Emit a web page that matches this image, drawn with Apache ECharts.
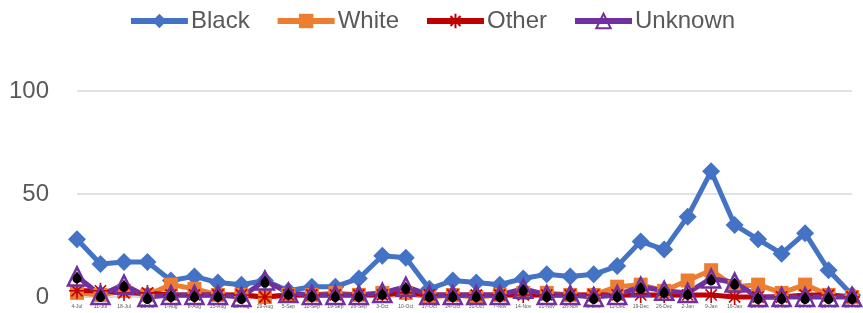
<!DOCTYPE html>
<html>
<head>
<meta charset="utf-8">
<script src="https://cdn.jsdelivr.net/npm/echarts@6/dist/echarts.min.js"></script>
<style>
html,body{margin:0;padding:0;background:#fff;}
#chart{width:863px;height:313px;}
</style>
</head>
<body>
<div id="chart"></div>
<script>
const categories = ['4-Jul','11-Jul','18-Jul','25-Jul','1-Aug','8-Aug','15-Aug','22-Aug','29-Aug','5-Sep','12-Sep','19-Sep','26-Sep','3-Oct','10-Oct','17-Oct','24-Oct','31-Oct','7-Nov','14-Nov','21-Nov','28-Nov','5-Dec','12-Dec','19-Dec','26-Dec','2-Jan','9-Jan','16-Jan','23-Jan','30-Jan','6-Feb','13-Feb','20-Feb'];
const blackVals   = [28,16,17,17,8,10,7,6,8,3,5,5,9,20,19,4,8,7,6,9,11,10,11,15,27,23,39,61,35,28,21,31,13,1];
const whiteVals   = [2,1,3,1,6,4,1,1,0,1,1,2,1,2,2,0,1,0,1,2,2,1,1,5,6,3,8,13,5,6,2,6,1,0];
const otherVals   = [3,3,2,2,1,1,1,1,0,1,1,1,1,1,2,1,1,1,1,1,1,1,1,1,1,1,1,1,0,0,0,1,1,0];
const unknownVals = [10,1,6,0,1,1,1,0,8,2,1,1,1,2,5,1,1,1,1,4,1,1,0,1,5,3,2,9,7,0,0,0,0,0];
const yTicks = [0, 50, 100];

const asterisk = 'path://M0,5 L10,5 M5,0 L5,10 M1.5,1.5 L8.5,8.5 M8.5,1.5 L1.5,8.5';
const drop = 'path://M5,0 C3,3 0,6 0,9 C0,12 2.5,14 5,14 C7.5,14 10,12 10,9 C10,6 7,3 5,0 Z';

const chart = echarts.init(document.getElementById('chart'));
chart.setOption({
  animation: false,
  textStyle: {fontFamily: 'Liberation Sans'},
  legend: {
    top: 4, left: 'center',
    data: ['Black','White','Other','Unknown'],
    itemWidth: 57, itemHeight: 18, itemGap: 25,
    lineStyle: {width: 6},
    textStyle: {fontSize: 24, color: '#595959', fontFamily: 'Liberation Sans', padding: [0,0,0,-2]}
  },
  grid: {left: 77, right: 5, top: 91, bottom: 16, containLabel: false},
  xAxis: {
    type: 'category', data: categories, boundaryGap: false,
    axisLine: {show: true, lineStyle: {color: '#d9d9d9', width: 1.5}},
    axisTick: {show: false},
    axisLabel: {interval: 0, fontSize: 5, color: '#595959', margin: 7}
  },
  yAxis: {
    type: 'value', min: yTicks[0], max: yTicks[yTicks.length-1], interval: 50,
    axisLine: {show: false}, axisTick: {show: false},
    axisLabel: {fontSize: 24, color: '#595959', margin: 28},
    splitLine: {lineStyle: {color: '#d9d9d9', width: 1.5}}
  },
  series: [
    {name: 'Black', type: 'line', data: blackVals, clip: false,
     symbol: 'diamond', symbolSize: 18,
     lineStyle: {color: '#4472C4', width: 5}, itemStyle: {color: '#4472C4'}},
    {name: 'White', type: 'line', data: whiteVals, clip: false,
     symbol: 'rect', symbolSize: 14,
     lineStyle: {color: '#ED7D31', width: 5}, itemStyle: {color: '#ED7D31'}},
    {name: 'Other', type: 'line', data: otherVals, clip: false,
     symbol: asterisk, symbolSize: 16,
     lineStyle: {color: '#C00000', width: 5},
     itemStyle: {color: '#C00000', borderColor: '#C00000', borderWidth: 1.6}},
    {name: 'Unknown', type: 'line', data: unknownVals, clip: false,
     symbol: 'triangle', symbolSize: 18,
     lineStyle: {color: '#7030A0', width: 5},
     itemStyle: {color: 'rgba(255,255,255,0)', borderColor: '#7030A0', borderWidth: 2.5}},
    {name: 'UnknownDrop', type: 'line', data: unknownVals, clip: false,
     symbol: drop, symbolSize: [9, 12], symbolOffset: [0, 1],
     lineStyle: {width: 0, opacity: 0}, itemStyle: {color: '#000000'}}
  ]
});
</script>
</body>
</html>
